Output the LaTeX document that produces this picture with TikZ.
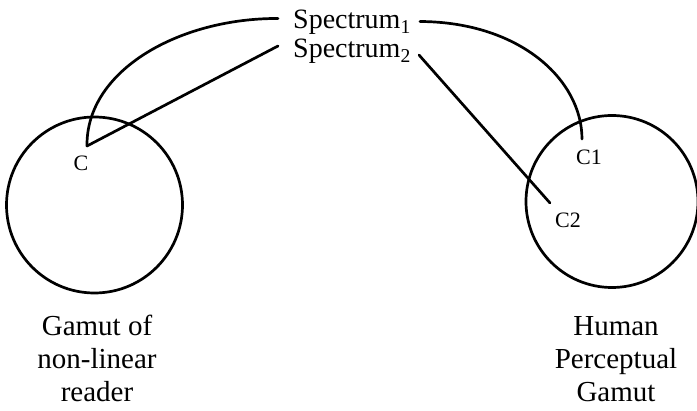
\documentclass[tikz,border=0pt]{standalone}
\usepackage{fontspec}
\setmainfont{Liberation Serif}
\begin{document}
\begin{tikzpicture}[x=1pt,y=-1pt,
  wire/.style={line width=2.7pt,line cap=round},
  gamut/.style={circle,draw,line width=2.7pt,inner sep=0pt},
  lab/.style={font=\fontsize{29}{33}\selectfont,inner sep=0pt,align=center},
  spec/.style={font=\fontsize{28}{32}\selectfont,inner sep=0pt,anchor=base west},
  pt/.style={font=\fontsize{22}{24}\selectfont,inner sep=0pt}]
\useasboundingbox (0,0) rectangle (697,411);
% gamut circles
\node[gamut,minimum size=176pt] (gl) at (94.5,205) {};
\node[gamut,minimum size=172pt] (gr) at (612,201.5) {};
% spectrum labels
\node[spec] (s1) at (293,29) {Spectrum\textsubscript{1}};
\node[spec] (s2) at (293,58) {Spectrum\textsubscript{2}};
% connector ends
\coordinate (s1l) at (278,18.5);
\coordinate (s1r) at (420,21.5);
\coordinate (s2l) at (278,46);
\coordinate (s2r) at (419,55);
\coordinate (cA) at (87,146);
\coordinate (c1) at (582,139);
\coordinate (c2) at (550,203);
% connectors
\draw[wire] (s1l) .. controls (180,18) and (86,70) .. (cA);
\draw[wire] (s2l) -- (cA);
\draw[wire] (s1r) .. controls (520,22) and (582,80) .. (c1);
\draw[wire] (s2r) -- (c2);
% point labels
\node[pt] (tC) at (81,163) {C};
\node[pt] (tC1) at (589,157) {C1};
\node[pt] (tC2) at (568,220) {C2};
% captions
\node[lab,anchor=base] (capl) at (97,402) {Gamut of\\non-linear\\reader};
\node[lab,anchor=base] (capr) at (616,402) {Human\\Perceptual\\Gamut};
\end{tikzpicture}
\end{document}
